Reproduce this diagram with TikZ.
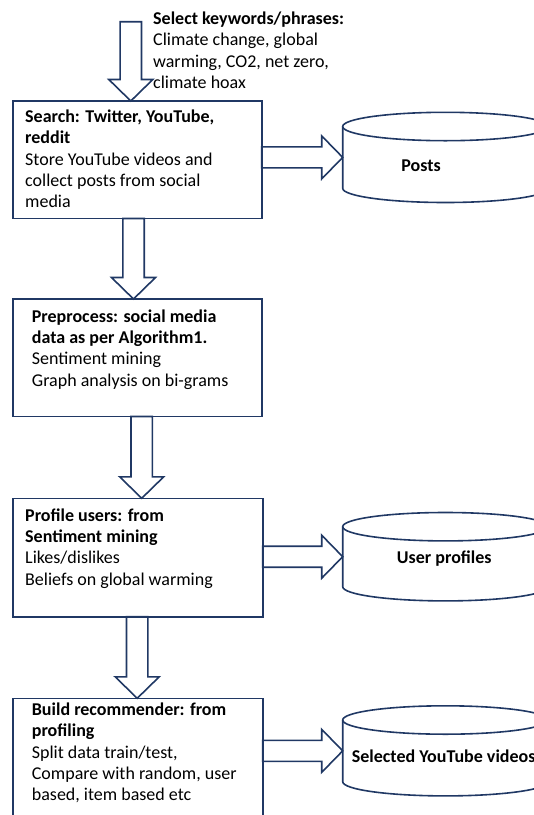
\documentclass[tikz,border=0pt]{standalone}
\usepackage{fontspec}
\setmainfont{Carlito}
\usetikzlibrary{calc}
\definecolor{navy}{HTML}{203864}

% hollow block arrows
\newcommand{\downblock}[2]{%
  \draw[blockline] ($(#1)+(-10.7,0)$) -- ($(#2)+(-10.7,-21.5)$) -- ($(#2)+(-22,-21.5)$) -- (#2)
    -- ($(#2)+(22,-21.5)$) -- ($(#2)+(10.7,-21.5)$) -- ($(#1)+(10.7,0)$) -- cycle;}
\newcommand{\rightblock}[2]{%
  \draw[blockline] ($(#1)+(0,-10.5)$) -- ($(#2)+(-21,-10.5)$) -- ($(#2)+(-21,-21.5)$) -- (#2)
    -- ($(#2)+(-21,21.5)$) -- ($(#2)+(-21,10.5)$) -- ($(#1)+(0,10.5)$) -- cycle;}
% data store drawn round a body node
\newcommand{\drawstore}[1]{%
  \draw[storeline] (#1.north) ellipse [x radius=102.7, y radius=14.2];
  \draw[storeline] (#1.north west) -- (#1.south west)
    arc[start angle=180, end angle=0, x radius=102.7, y radius=14.2] -- (#1.north east);}

\begin{document}
\begin{tikzpicture}[x=1pt, y=-1pt,
    box/.style = {draw=navy, line width=1.6pt, minimum width=249, minimum height=117.5,
                  inner sep=0, outer sep=0, anchor=north west},
    txt/.style = {anchor=north west, inner sep=0, align=left,
                  font=\fontsize{18}{21.3}\selectfont},
    body/.style = {minimum width=205.4, minimum height=61.8, inner sep=0, outer sep=0},
    storeline/.style = {draw=navy, line width=1.6pt},
    blockline/.style = {draw=navy, line width=1.6pt, line join=miter},
    lbl/.style = {inner sep=0, font=\fontsize{18}{21.3}\selectfont\bfseries}]
  \clip (0,0) rectangle (534,815);

  % process boxes
  \node[box] (search) at (12.7,101) {};
  \node[box] (prep) at (12.7,299) {};
  \node[box, minimum width=250, minimum height=118.4] (profile) at (12.7,498.3) {};
  \node[box, minimum width=250, minimum height=125] (recommend) at (12.7,698.3) {};

  % texts
  \node[txt] (keywords) at (153,11.8) {\textbf{Select keywords/phrases:}\\Climate change, global\\warming, CO2, net zero,\\climate hoax};
  \node[txt] (searchtxt) at ($(search.north west)+(12.3,8.8)$) {\textbf{Search: Twitter, YouTube,}\\\textbf{reddit}\\Store YouTube videos and\\collect posts from social\\media};
  \node[txt] (preptxt) at ($(prep.north west)+(19,10.3)$) {\textbf{Preprocess: social media}\\\textbf{data as per Algorithm1.}\\Sentiment mining\\Graph analysis on bi-grams};
  \node[txt] (profiletxt) at ($(profile.north west)+(12.3,10)$) {\textbf{Profile users: from}\\\textbf{Sentiment mining}\\Likes/dislikes\\Beliefs on global warming};
  \node[txt] (recommendtxt) at ($(recommend.north west)+(19,4.5)$) {\textbf{Build recommender: from}\\\textbf{profiling}\\Split data train/test,\\Compare with random, user\\based, item based etc};

  % data stores
  \node[body] (posts) at (445.4,157.4) {};
  \node[body, minimum height=60] (profiles) at (445.4,556.7) {};
  \node[body, minimum height=61.7] (videos) at (445.4,750.85) {};
  \drawstore{posts}
  \drawstore{profiles}
  \drawstore{videos}
  \node[lbl, anchor=base] (postslbl) at (421,171.2) {Posts};
  \node[lbl, anchor=base] (profileslbl) at (444.3,563.8) {User profiles};
  \node[lbl, anchor=base west] (videoslbl) at (351.7,762.2) {Selected YouTube videos};

  % block arrows
  \coordinate (a1) at (130.8,21.7);
  \coordinate (a2) at ($(search.south west)+(120.8,0)$);
  \coordinate (a3) at ($(prep.south west)+(129,0)$);
  \coordinate (a4) at ($(profile.south west)+(124.5,0)$);
  \downblock{a1}{a1 |- search.north}
  \downblock{a2}{a2 |- prep.north}
  \downblock{a3}{a3 |- profile.north}
  \downblock{a4}{a4 |- recommend.north}
  \rightblock{search.east |- posts.west}{posts.west}
  \rightblock{profile.east |- profiles.west}{profiles.west}
  \rightblock{recommend.east |- videos.west}{videos.west}
\end{tikzpicture}
\end{document}
